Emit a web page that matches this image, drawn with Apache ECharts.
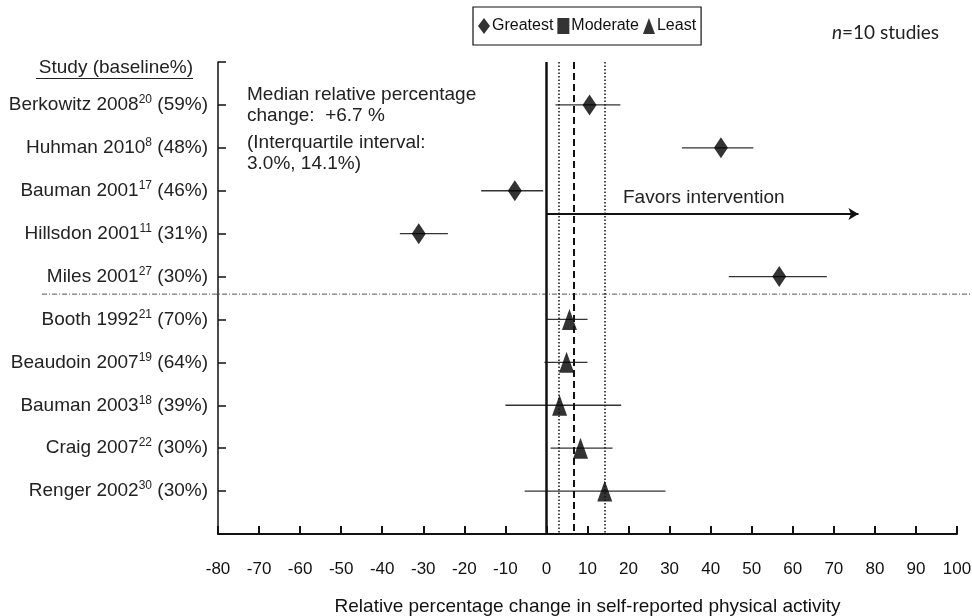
<!DOCTYPE html>
<html>
<head>
<meta charset="utf-8">
<script src="https://cdn.jsdelivr.net/npm/echarts@6/dist/echarts.min.js"></script>
<style>
  html, body { margin: 0; padding: 0; background: #fff; }
  #chart { width: 972px; height: 616px; }
</style>
</head>
<body>
<div id="chart"></div>
<script>
// study rows, top to bottom
const studies = ['Berkowitz 2008', 'Huhman 2010', 'Bauman 2001', 'Hillsdon 2001', 'Miles 2001',
  'Booth 1992', 'Beaudoin 2007', 'Bauman 2003', 'Craig 2007', 'Renger 2002'];
const refs = ['20', '8', '17', '11', '27', '21', '19', '18', '22', '30'];
const baselines = ['59%', '48%', '46%', '31%', '30%', '70%', '64%', '39%', '30%', '30%'];
const groups = ['Greatest', 'Greatest', 'Greatest', 'Greatest', 'Greatest',
  'Least', 'Least', 'Least', 'Least', 'Least'];
const effect = [10.5, 42.5, -7.7, -31.1, 56.7, 5.6, 4.9, 3.2, 8.3, 14.2];
const lower = [2.2, 33.0, -15.9, -35.7, 44.4, 0.0, -0.5, -10.0, 1.0, -5.3];
const upper = [18.0, 50.4, -0.8, -24.0, 68.3, 10.0, 10.0, 18.2, 16.1, 29.0];

const median = 6.7;
const q1 = 3.0;
const q3 = 14.1;
const arrowEnd = 76;
const arrowRow = 2.54;
const separatorRow = 4.41;

const arial = "'Liberation Sans', Arial, sans-serif";

const pointsOf = (g) => effect
  .map((v, i) => (groups[i] === g ? [v, i] : null))
  .filter((d) => d !== null);

// row ticks: the top bracket (-1) plus one per study
const rowTicks = [-1].concat(studies.map((s, i) => i));

const chart = echarts.init(document.getElementById('chart'));

chart.setOption({
  animation: false,
  grid: { left: 218, right: 15, top: 62, bottom: 82, outerBoundsMode: 'none', containLabel: false },
  legend: {
    left: 473,
    top: 7,
    padding: [11, 5],
    borderColor: '#111',
    borderWidth: 1.2,
    itemWidth: 12,
    itemHeight: 16,
    itemGap: 4,
    selectedMode: false,
    data: ['Greatest', 'Moderate', 'Least'],
    textStyle: { fontFamily: arial, fontSize: 16, color: '#111', padding: [0, 0, 0, -3] }
  },
  xAxis: {
    type: 'value',
    min: -80,
    max: 100,
    interval: 10,
    splitLine: { show: false },
    axisLine: { onZero: false, lineStyle: { color: '#111', width: 2 } },
    axisTick: { inside: true, length: 8, lineStyle: { color: '#111', width: 2 } },
    axisLabel: { margin: 27, fontFamily: arial, fontSize: 17, color: '#111' },
    name: 'Relative percentage change in self-reported physical activity',
    nameLocation: 'middle',
    nameGap: 63,
    nameTextStyle: { fontFamily: arial, fontSize: 19, color: '#111' }
  },
  yAxis: {
    type: 'value',
    inverse: true,
    min: -1,
    max: 10,
    interval: 1,
    splitLine: { show: false },
    axisLine: { onZero: false, lineStyle: { color: '#111', width: 1.5 } },
    axisTick: { inside: true, length: 8, customValues: rowTicks, lineStyle: { color: '#111', width: 1.5 } },
    axisLabel: {
      margin: 10,
      customValues: rowTicks,
      formatter: (v) => {
        if (!Number.isInteger(v) || v < 0 || v >= studies.length) return '';
        return '{n|' + studies[v] + '}{s|' + refs[v] + '}{n| (' + baselines[v] + ')}';
      },
      rich: {
        n: { fontFamily: arial, fontSize: 19, color: '#222', lineHeight: 22 },
        s: { fontFamily: arial, fontSize: 12, color: '#222', lineHeight: 14, verticalAlign: 'top' }
      }
    }
  },
  series: [
    {
      name: 'CI',
      type: 'custom',
      z: 2,
      silent: true,
      data: effect.map((v, i) => [lower[i], upper[i], i]),
      encode: { x: [0, 1], y: 2 },
      renderItem: (params, api) => {
        const a = api.coord([api.value(0), api.value(2)]);
        const b = api.coord([api.value(1), api.value(2)]);
        return {
          type: 'line',
          shape: { x1: a[0], y1: a[1], x2: b[0], y2: b[1] },
          style: { stroke: '#333', lineWidth: 1.3 }
        };
      }
    },
    {
      name: 'Greatest',
      type: 'scatter',
      symbol: 'diamond',
      symbolSize: [14, 21],
      z: 4,
      itemStyle: { color: '#000' },
      data: pointsOf('Greatest')
    },
    {
      name: 'Moderate',
      type: 'scatter',
      symbol: 'rect',
      symbolSize: 12,
      itemStyle: { color: '#000' },
      data: pointsOf('Moderate')
    },
    {
      name: 'Least',
      type: 'scatter',
      symbol: 'triangle',
      symbolSize: [15, 21],
      z: 4,
      itemStyle: { color: '#000' },
      data: pointsOf('Least')
    },
    {
      name: 'ref',
      type: 'scatter',
      data: [],
      silent: true,
      markLine: {
        silent: true,
        symbol: 'none',
        label: { show: false },
        animation: false,
        data: [
          { xAxis: 0, lineStyle: { color: '#111', width: 2.5, type: 'solid' } },
          { xAxis: q1, lineStyle: { color: '#111', width: 1.5, type: [1.5, 2] } },
          { xAxis: median, lineStyle: { color: '#111', width: 2, type: [7, 4] } },
          { xAxis: q3, lineStyle: { color: '#111', width: 1.5, type: [1.5, 2] } },
          [
            { coord: [0, arrowRow], symbol: 'none' },
            { coord: [arrowEnd, arrowRow], symbol: 'arrow', symbolSize: [9, 10],
              lineStyle: { color: '#111', width: 2, type: 'solid' } }
          ]
        ]
      }
    }
  ],
  graphic: [
    {
      id: 'sep', type: 'line', shape: { x1: 42, y1: 0, x2: 972, y2: 0 }, invisible: true,
      style: { stroke: '#555', lineWidth: 1, lineDash: [5, 2, 1, 2] }
    },
    {
      id: 'studyHead', type: 'text', x: 193, y: 68,
      style: { text: 'Study (baseline%)', font: '19px ' + arial, fill: '#222', align: 'right', verticalAlign: 'middle' }
    },
    {
      id: 'studyLine', type: 'line', shape: { x1: 36, y1: 78.5, x2: 193, y2: 78.5 },
      style: { stroke: '#222', lineWidth: 1.2 }
    },
    {
      id: 'med1', type: 'text', x: 247, y: 95,
      style: { text: 'Median relative percentage', font: '19px ' + arial, fill: '#222', verticalAlign: 'middle' }
    },
    {
      id: 'med2', type: 'text', x: 247, y: 116,
      style: { text: 'change:  +' + median + ' %', font: '19px ' + arial, fill: '#222', verticalAlign: 'middle' }
    },
    {
      id: 'iqr1', type: 'text', x: 247, y: 143,
      style: { text: '(Interquartile interval:', font: '19px ' + arial, fill: '#222', verticalAlign: 'middle' }
    },
    {
      id: 'iqr2', type: 'text', x: 247, y: 164,
      style: { text: q1.toFixed(1) + '%, ' + q3.toFixed(1) + '%)', font: '19px ' + arial, fill: '#222', verticalAlign: 'middle' }
    },
    {
      id: 'favors', type: 'text', x: 623, y: 197.5,
      style: { text: 'Favors intervention', font: '19px ' + arial, fill: '#222', verticalAlign: 'middle' }
    },
    {
      id: 'nstudies', type: 'text', x: 832, y: 33,
      style: {
        text: '{i|n}{r|=10 studies}',
        verticalAlign: 'middle',
        rich: {
          i: { fontFamily: 'Lato, sans-serif', fontStyle: 'italic', fontSize: 19, fill: '#222' },
          r: { fontFamily: 'Lato, sans-serif', fontSize: 19, fill: '#222' }
        }
      }
    }
  ]
});

// dash-dot separator between the two groups runs past the plot on both sides
const sepY = chart.convertToPixel({ yAxisIndex: 0 }, separatorRow);
chart.setOption({
  graphic: [{ id: 'sep', invisible: false, shape: { x1: 42, y1: sepY, x2: 972, y2: sepY } }]
});
</script>
</body>
</html>
